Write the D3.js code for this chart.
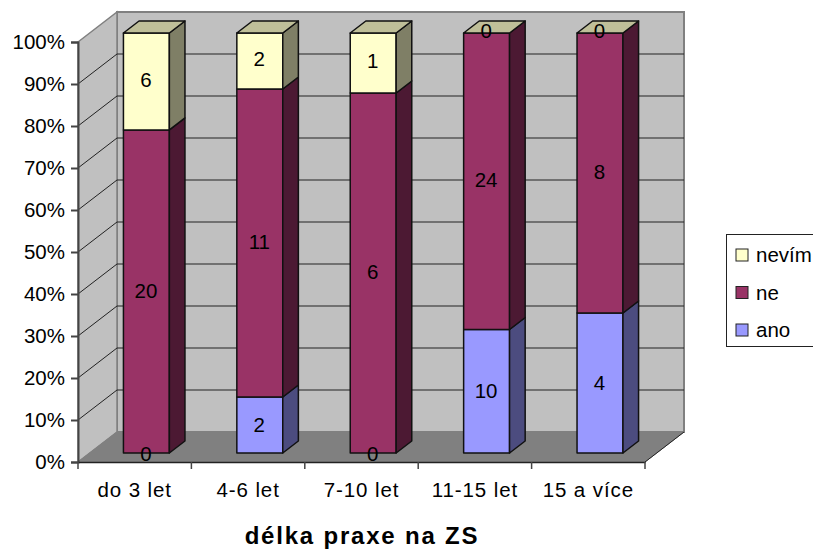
<!DOCTYPE html>
<html>
<head>
<meta charset="utf-8">
<script src="https://cdn.jsdelivr.net/npm/d3@7/dist/d3.min.js"></script>
<style>
html, body { margin: 0; padding: 0; background: #fff; overflow: hidden; }
svg { display: block; }
text { font-family: "Liberation Sans", Arial, sans-serif; fill: #000; }
</style>
</head>
<body>
<svg id="chart" width="813" height="549"></svg>
<script>
const categories = ["do 3 let", "4-6 let", "7-10 let", "11-15 let", "15 a více"];
const ano = [0, 2, 0, 10, 4];
const ne = [20, 11, 6, 24, 8];
const nevim = [6, 2, 1, 0, 0];
const seriesNames = ["ano", "ne", "nevím"];
const seriesColors = ["#9999FF", "#993366", "#FFFFCC"];
const sideColors = ["#4C4C7F", "#4C1933", "#7F7F66"];
const topColors = ["#7373BF", "#732650", "#BFBF99"];
const percentTicks = d3.range(0, 101, 10);

const svg = d3.select("#chart");

// Oblique projection: the front plane holds the axes, the wall sits behind it.
const wallDx = 39, wallDy = -30;
const barDepthStart = 0.3, barDepthEnd = 0.7;
const x = d3.scaleBand().domain(categories).range([78, 645]);
const y = d3.scaleLinear().domain([0, 100]).range([462, 42]);
const labelY = d3.scaleLinear().domain([0, 100]).range([453, 30.5]);
const offX = t => wallDx * t, offY = t => wallDy * t;
const pts = a => a.map(p => p.join(",")).join(" ");

const floorY = y(0), topY = y(100), x0 = x.range()[0], x1 = x.range()[1];

// Back wall, side wall, floor
svg.append("polygon")
  .attr("points", pts([[x0 + wallDx, topY + wallDy], [x1 + wallDx, topY + wallDy], [x1 + wallDx, floorY + wallDy], [x0 + wallDx, floorY + wallDy]]))
  .attr("fill", "#C0C0C0").attr("stroke", "#808080").attr("stroke-width", 2);
svg.append("polygon")
  .attr("points", pts([[x0, topY], [x0 + wallDx, topY + wallDy], [x0 + wallDx, floorY + wallDy], [x0, floorY]]))
  .attr("fill", "#C0C0C0").attr("stroke", "#808080").attr("stroke-width", 1.5);
svg.append("polygon")
  .attr("points", pts([[x0, floorY], [x1, floorY], [x1 + wallDx, floorY + wallDy], [x0 + wallDx, floorY + wallDy]]))
  .attr("fill", "#808080").attr("stroke", "#808080");

// Gridlines along both walls
const grid = svg.append("g").attr("stroke", "#222").attr("stroke-width", 1).attr("fill", "none");
percentTicks.filter(t => t > 0 && t < 100).forEach(t => {
  grid.append("polyline")
    .attr("points", pts([[x0, y(t)], [x0 + wallDx, y(t) + wallDy], [x1 + wallDx, y(t) + wallDy]]));
});
grid.append("line")
  .attr("x1", x1).attr("y1", floorY).attr("x2", x1 + wallDx).attr("y2", floorY + wallDy)
  .attr("stroke", "#222");

// Stacked columns as 100% shares
const rows = categories.map((c, i) => {
  const vals = [ano[i], ne[i], nevim[i]];
  const total = d3.sum(vals);
  let acc = 0;
  return { c, segs: vals.map((v, s) => {
    const lo = acc / total * 100;
    acc += v;
    return { s, v, lo, hi: acc / total * 100 };
  }) };
});

const barW = x.bandwidth() * 0.405;
const dxStart = offX(barDepthStart), dyStart = offY(barDepthStart);
const sideDx = offX(barDepthEnd - barDepthStart), sideDy = offY(barDepthEnd - barDepthStart);
const barsG = svg.append("g").attr("stroke", "#111").attr("stroke-width", 1.5).attr("stroke-linejoin", "round");

rows.forEach(r => {
  const left = x(r.c) + (x.bandwidth() - barW) / 2 + dxStart;
  const right = left + barW;
  r.segs.forEach(d => {
    const yHi = y(d.hi) + dyStart, yLo = y(d.lo) + dyStart;
    if (d.v > 0) {
      barsG.append("polygon")
        .attr("points", pts([[left, yHi], [right, yHi], [right, yLo], [left, yLo]]))
        .attr("fill", seriesColors[d.s]);
      barsG.append("polygon")
        .attr("points", pts([[right, yHi], [right + sideDx, yHi + sideDy], [right + sideDx, yLo + sideDy], [right, yLo]]))
        .attr("fill", sideColors[d.s]);
    }
  });
  // Cap of the stack keeps the top series colour, even when that series is empty
  const capY = y(100) + dyStart;
  barsG.append("polygon")
    .attr("points", pts([[left, capY], [right, capY], [right + sideDx, capY + sideDy], [left + sideDx, capY + sideDy]]))
    .attr("fill", topColors[2]);
});

// Value labels, centred on the front face of each segment
const labels = svg.append("g").attr("font-size", 20.5).attr("text-anchor", "middle");
rows.forEach(r => {
  const cx = x(r.c) + x.bandwidth() / 2 + dxStart;
  r.segs.forEach(d => {
    if (d.v === 0 && d.s === 1) return;
    labels.append("text")
      .attr("x", cx - 0.5).attr("y", labelY((d.lo + d.hi) / 2) + 7.5).text(d.v);
  });
});

// Axes on the front plane
const yAxis = d3.axisLeft(y).tickValues(percentTicks).tickFormat(d => d + "%").tickSize(7).tickPadding(6);
const yG = svg.append("g").attr("transform", `translate(${x0},0)`).call(yAxis);
yG.selectAll("text").attr("font-size", 20.5).style("font-family", '"Liberation Sans", Arial, sans-serif');
yG.selectAll("line,path").attr("stroke", "#444").attr("stroke-width", 2);

const xAxis = d3.axisBottom(x).tickSize(0).tickPadding(20);
const xG = svg.append("g").attr("transform", `translate(0,${floorY})`).call(xAxis);
xG.selectAll("text").attr("font-size", 20.5).attr("letter-spacing", 0.9).attr("dy", "0.74em").style("font-family", '"Liberation Sans", Arial, sans-serif');
xG.select("path").attr("stroke", "#222").attr("stroke-width", 1.5);
// Separator ticks fall on the band edges
const edges = categories.map(c => x(c)).concat([x1]);
xG.selectAll(".edge").data(edges).enter().append("line")
  .attr("class", "edge").attr("x1", d => d).attr("x2", d => d).attr("y1", 0).attr("y2", 7)
  .attr("stroke", "#444").attr("stroke-width", 1.5);

// Axis title
svg.append("text")
  .attr("x", 362).attr("y", 544)
  .attr("text-anchor", "middle")
  .attr("font-size", 24).attr("font-weight", "bold").attr("letter-spacing", 1.8)
  .text("délka praxe na ZS");

// Legend, listed top of stack first
const legend = svg.append("g");
legend.append("rect")
  .attr("x", 726.5).attr("y", 234.5).attr("width", 100).attr("height", 112)
  .attr("fill", "#fff").attr("stroke", "#222").attr("stroke-width", 1);
const order = [2, 1, 0];
const rowY = d3.scalePoint().domain(order).range([255, 330]);
order.forEach(s => {
  legend.append("rect")
    .attr("x", 736).attr("y", rowY(s) - 6).attr("width", 12).attr("height", 12)
    .attr("fill", seriesColors[s]).attr("stroke", "#222").attr("stroke-width", 1);
  legend.append("text")
    .attr("x", 756).attr("y", rowY(s) + 7).attr("font-size", 20.5)
    .text(seriesNames[s]);
});
</script>
</body>
</html>
